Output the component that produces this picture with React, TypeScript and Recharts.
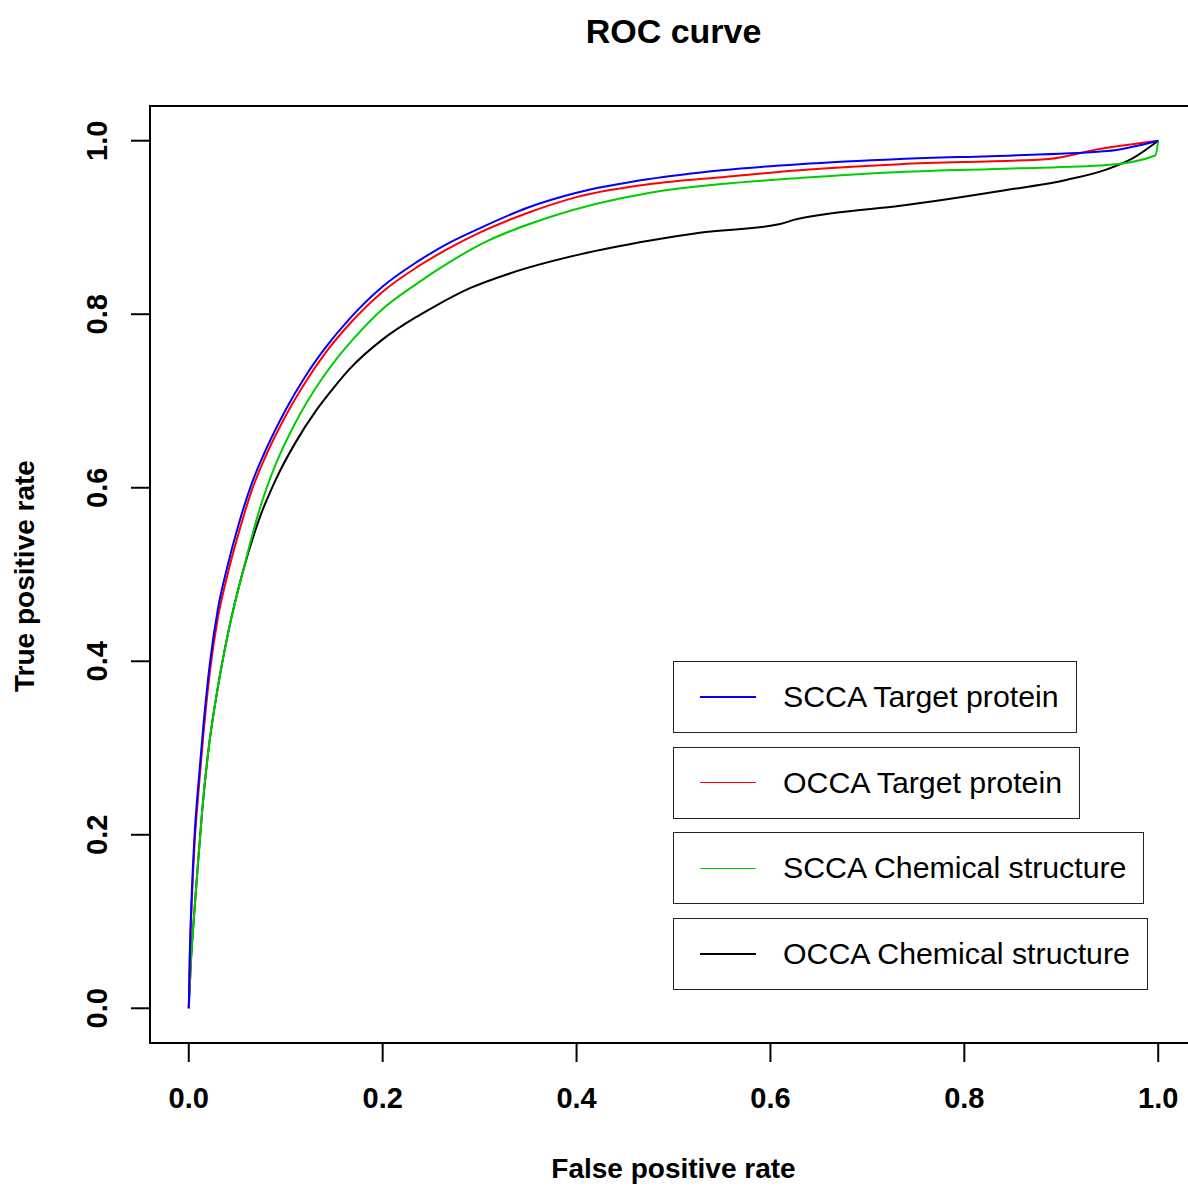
import React from 'react';
import { LineChart, Line, XAxis, YAxis, Legend, ReferenceArea } from 'recharts';

const axisTicks = [0, 0.2, 0.4, 0.6, 0.8, 1.0];
const legendOrder = ['SCCA Target protein', 'OCCA Target protein', 'SCCA Chemical structure', 'OCCA Chemical structure'];

const fprSccaTarget = [0, 0.001, 0.003, 0.006, 0.01, 0.015, 0.022, 0.03, 0.04, 0.052, 0.065, 0.08, 0.1, 0.12, 0.14, 0.166, 0.2, 0.235, 0.27, 0.3, 0.35, 0.4, 0.476, 0.55, 0.63, 0.734, 0.85, 0.947, 1.0];
const tprSccaTarget = [0, 0.06, 0.13, 0.2, 0.26, 0.325, 0.4, 0.46, 0.51, 0.56, 0.605, 0.645, 0.69, 0.728, 0.76, 0.795, 0.832, 0.86, 0.883, 0.899, 0.923, 0.94, 0.956, 0.966, 0.973, 0.979, 0.983, 0.988, 1.0];

const fprOccaTarget = [0, 0.001, 0.003, 0.006, 0.01, 0.015, 0.022, 0.03, 0.04, 0.052, 0.065, 0.08, 0.1, 0.12, 0.14, 0.166, 0.2, 0.235, 0.27, 0.3, 0.35, 0.4, 0.476, 0.55, 0.63, 0.734, 0.887, 0.937, 1.0];
const tprOccaTarget = [0, 0.055, 0.12, 0.19, 0.25, 0.315, 0.39, 0.45, 0.5, 0.55, 0.597, 0.638, 0.683, 0.721, 0.754, 0.789, 0.826, 0.854, 0.877, 0.894, 0.917, 0.935, 0.95, 0.958, 0.966, 0.973, 0.979, 0.99, 1.0];

const fprSccaChem = [0, 0.002, 0.005, 0.009, 0.014, 0.02, 0.03, 0.041, 0.055, 0.073, 0.09, 0.11, 0.137, 0.152, 0.175, 0.2, 0.235, 0.269, 0.3, 0.3725, 0.476, 0.55, 0.63, 0.734, 0.85, 0.947, 0.997, 1.0];
const tprSccaChem = [0, 0.05, 0.1, 0.16, 0.23, 0.295, 0.37, 0.435, 0.5, 0.575, 0.628, 0.675, 0.725, 0.748, 0.778, 0.806, 0.835, 0.86, 0.88, 0.912, 0.94, 0.95, 0.957, 0.964, 0.968, 0.972, 0.983, 1.0];

const fprOccaChem = [0, 0.002, 0.005, 0.009, 0.014, 0.02, 0.03, 0.041, 0.055, 0.073, 0.09, 0.11, 0.132, 0.15, 0.166, 0.2, 0.235, 0.252, 0.29, 0.331, 0.4035, 0.476, 0.527, 0.61, 0.625, 0.6615, 0.734, 0.837, 0.906, 0.947, 0.974, 1.0];
const tprOccaChem = [0, 0.05, 0.1, 0.16, 0.23, 0.295, 0.37, 0.435, 0.5, 0.565, 0.61, 0.652, 0.69, 0.716, 0.737, 0.771, 0.797, 0.808, 0.83, 0.847, 0.869, 0.885, 0.894, 0.904, 0.909, 0.916, 0.925, 0.942, 0.955, 0.967, 0.98, 1.0];

const toPoints = (fpr: number[], tpr: number[]) => fpr.map((x, i) => ({ fpr: x, tpr: tpr[i] }));

const font = '"Liberation Sans", Arial, Helvetica, sans-serif';

const XTick = (props: any) => {
  const { x, y, payload } = props;
  return (
    <text x={x} y={y} dy="0.36em" textAnchor="middle" fontFamily={font} fontWeight="bold" fontSize={29} fill="#000">
      {Number(payload.value).toFixed(1)}
    </text>
  );
};

const YTick = (props: any) => {
  const { x, y, payload } = props;
  return (
    <text x={x} y={y} dy="0.36em" textAnchor="middle" transform={`rotate(-90, ${x}, ${y})`} fontFamily={font} fontWeight="bold" fontSize={29} fill="#000">
      {Number(payload.value).toFixed(1)}
    </text>
  );
};

const renderLegend = (props: any) => {
  const items = [...(props.payload || [])].sort((a: any, b: any) => legendOrder.indexOf(a.value) - legendOrder.indexOf(b.value));
  return (
    <div>
      {items.map((item: any) => (
        <div
          key={item.value}
          style={{
            display: 'flex',
            alignItems: 'center',
            width: 'fit-content',
            height: 70,
            border: '1.5px solid #222',
            marginBottom: 13.7,
            paddingRight: 17,
            fontFamily: font,
            fontSize: 30.3,
            color: '#000',
            background: '#fff',
          }}
        >
          <div style={{ width: 56, height: 1.5, background: item.color, marginLeft: 26, marginRight: 27 }} />
          <span style={{ whiteSpace: 'nowrap' }}>{item.value}</span>
        </div>
      ))}
    </div>
  );
};

const App: React.FC = () => {
  return (
    <div style={{ position: 'fixed', left: 0, top: 0, width: 1188, height: 1189, overflow: 'hidden', background: '#fff' }}>
      <LineChart width={1220} height={1189} margin={{ top: 106, right: 23, bottom: 0, left: 0 }}>
        <XAxis
          type="number"
          dataKey="fpr"
          domain={[-0.04, 1.04]}
          ticks={axisTicks}
          allowDataOverflow
          axisLine={false}
          tickSize={19}
          tickMargin={36}
          tickLine={{ stroke: '#000', strokeWidth: 2 }}
          tick={<XTick />}
          height={146}
        />
        <YAxis
          type="number"
          dataKey="tpr"
          domain={[-0.04, 1.04]}
          ticks={axisTicks}
          allowDataOverflow
          axisLine={false}
          tickSize={19}
          tickMargin={34}
          tickLine={{ stroke: '#000', strokeWidth: 2 }}
          tick={<YTick />}
          width={150}
        />
        <ReferenceArea x1={-0.04} x2={1.04} y1={-0.04} y2={1.04} fill="none" fillOpacity={0} stroke="#000" strokeWidth={2} />
        <Line data={toPoints(fprOccaChem, tprOccaChem)} dataKey="tpr" name="OCCA Chemical structure" type="monotone" stroke="#000000" strokeWidth={2} dot={false} isAnimationActive={false} />
        <Line data={toPoints(fprSccaChem, tprSccaChem)} dataKey="tpr" name="SCCA Chemical structure" type="monotone" stroke="#00CD00" strokeWidth={2} dot={false} isAnimationActive={false} />
        <Line data={toPoints(fprOccaTarget, tprOccaTarget)} dataKey="tpr" name="OCCA Target protein" type="monotone" stroke="#FF0000" strokeWidth={2} dot={false} isAnimationActive={false} />
        <Line data={toPoints(fprSccaTarget, tprSccaTarget)} dataKey="tpr" name="SCCA Target protein" type="monotone" stroke="#0000FF" strokeWidth={2} dot={false} isAnimationActive={false} />
        <Legend
          layout="horizontal"
          verticalAlign="middle"
          align="center"
          content={renderLegend}
          wrapperStyle={{ left: 673, top: 661, width: 'auto', height: 'auto' }}
        />
      </LineChart>
      <div style={{ position: 'absolute', left: 0, top: 14, width: 1347, textAlign: 'center', fontFamily: font, fontWeight: 'bold', fontSize: 34, lineHeight: 1 }}>
        ROC curve
      </div>
      <div style={{ position: 'absolute', left: 0, top: 1155, width: 1347, textAlign: 'center', fontFamily: font, fontWeight: 'bold', fontSize: 28, lineHeight: 1 }}>
        False positive rate
      </div>
      <div style={{ position: 'absolute', left: 25, top: 576, transform: 'translate(-50%, -50%) rotate(-90deg)', whiteSpace: 'nowrap', fontFamily: font, fontWeight: 'bold', fontSize: 28, lineHeight: 1 }}>
        True positive rate
      </div>
    </div>
  );
};

export default App;
